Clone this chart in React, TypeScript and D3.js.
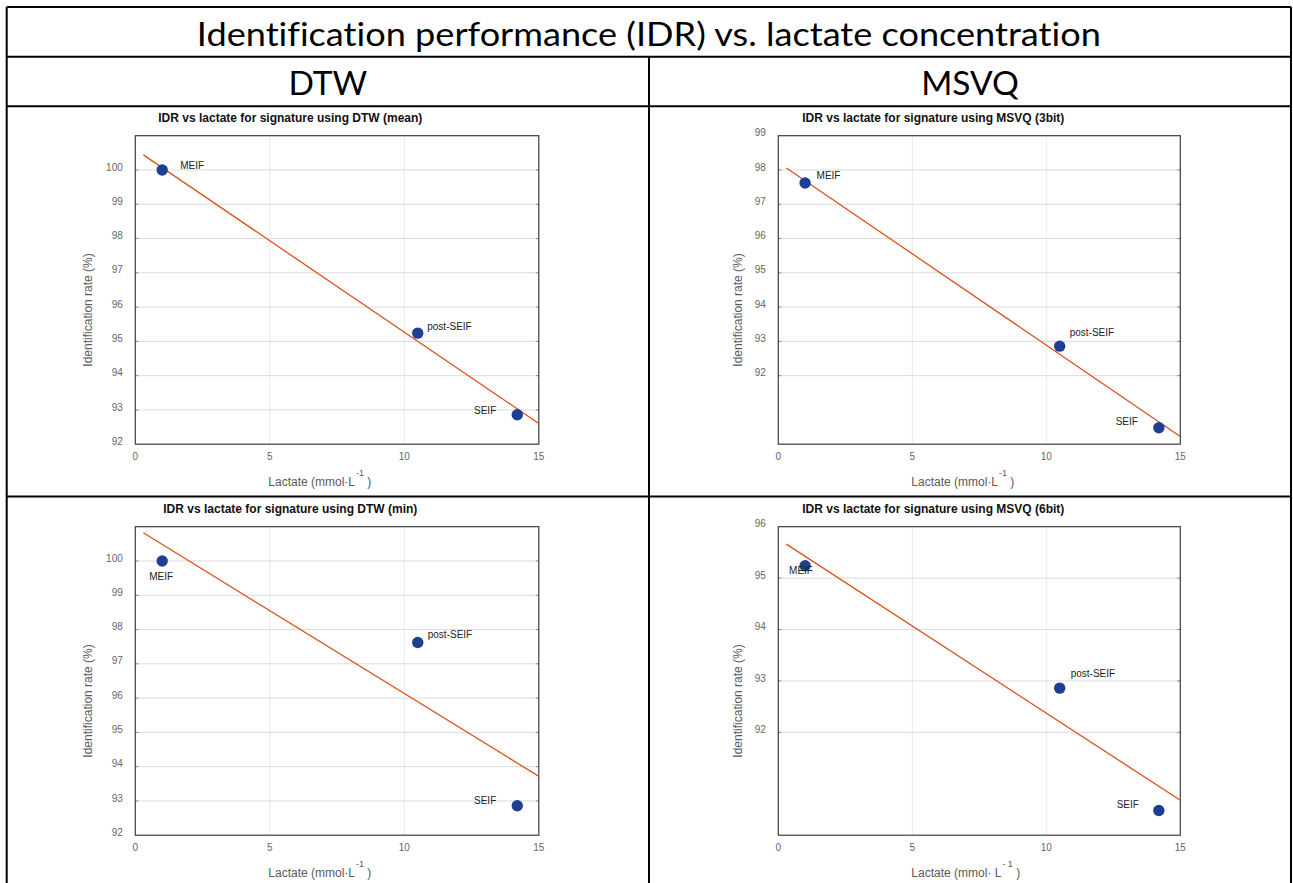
import React from "react";
import * as d3 from "d3";

// ---------------- data ----------------
const conditions = ["MEIF", "post-SEIF", "SEIF"];
const lactate = [1.0, 10.5, 14.2];

const idrDtwMean = [100, 95.24, 92.86];
const idrDtwMin = [100, 97.62, 92.86];
const idrMsvq3 = [97.62, 92.86, 90.48];
const idrMsvq6 = [95.24, 92.86, 90.48];

const xTicks = [0, 5, 10, 15];
const yTicksDtw = [92, 93, 94, 95, 96, 97, 98, 99, 100];
const yTicksMsvq3 = [92, 93, 94, 95, 96, 97, 98, 99];
const yTicksMsvq6 = [92, 93, 94, 95, 96];

const fitRange = [0.3, 15];

const mainTitle = "Identification performance (IDR) vs. lactate concentration";
const columnHeaders = ["DTW", "MSVQ"];

// label placement (dx, dy relative to point, anchor)
type LabelPos = { dx: number; dy: number; anchor: "start" | "middle" | "end" };
const labelsDtwMean: LabelPos[] = [
  { dx: 18, dy: -4, anchor: "start" },
  { dx: 9.5, dy: -6, anchor: "start" },
  { dx: -21, dy: -3, anchor: "end" },
];
const labelsMsvq3: LabelPos[] = [
  { dx: 11.5, dy: -6.5, anchor: "start" },
  { dx: 10, dy: -13, anchor: "start" },
  { dx: -21, dy: -5, anchor: "end" },
];
const labelsDtwMin: LabelPos[] = [
  { dx: -1, dy: 16, anchor: "middle" },
  { dx: 10, dy: -7, anchor: "start" },
  { dx: -21, dy: -4, anchor: "end" },
];
const labelsMsvq6: LabelPos[] = [
  { dx: -16, dy: 6, anchor: "start" },
  { dx: 11, dy: -14, anchor: "start" },
  { dx: -20, dy: -5, anchor: "end" },
];

const FONT = "'Liberation Sans', Arial, Helvetica, sans-serif";
const HEAD_FONT = "Lato, 'Open Sans', sans-serif";

function linearFit(xs: number[], ys: number[]) {
  const mx = d3.mean(xs)!;
  const my = d3.mean(ys)!;
  let sxy = 0;
  let sxx = 0;
  xs.forEach((x, i) => {
    sxy += (x - mx) * (ys[i] - my);
    sxx += (x - mx) * (x - mx);
  });
  const slope = sxy / sxx;
  const intercept = my - slope * mx;
  return (x: number) => intercept + slope * x;
}

type PanelProps = {
  left: number;
  top: number;
  width: number;
  height: number;
  yDomain: [number, number];
  yTicks: number[];
  values: number[];
  title: string;
  labels: LabelPos[];
  yLabelDx: number;
  spacedUnit?: boolean;
};

function Panel(p: PanelProps) {
  const x = d3.scaleLinear().domain([0, 15]).range([p.left, p.left + p.width]);
  const y = d3.scaleLinear().domain(p.yDomain).range([p.top + p.height, p.top]);
  const fit = linearFit(lactate, p.values);
  const line = d3
    .line<number>()
    .x((d) => x(d))
    .y((d) => y(fit(d)));
  const bottom = p.top + p.height;
  const right = p.left + p.width;
  const cy = p.top + p.height / 2;
  return (
    <g>
      {/* grid */}
      {p.yTicks
        .filter((t) => t > p.yDomain[0] && t < p.yDomain[1])
        .map((t) => (
          <line key={"gy" + t} x1={p.left} x2={right} y1={y(t)} y2={y(t)} stroke="#dcdcdc" strokeWidth={1} />
        ))}
      {xTicks
        .filter((t) => t > 0 && t < 15)
        .map((t) => (
          <line
            key={"gx" + t}
            x1={x(t)}
            x2={x(t)}
            y1={p.top}
            y2={bottom}
            stroke="#d4d4d4"
            strokeWidth={1}
            strokeDasharray="1,1"
          />
        ))}
      {/* inward ticks */}
      {p.yTicks
        .filter((t) => t > p.yDomain[0] && t < p.yDomain[1])
        .map((t) => (
          <g key={"ty" + t}>
            <line x1={p.left} x2={p.left + 3} y1={y(t)} y2={y(t)} stroke="#8a8a8a" strokeWidth={1} />
            <line x1={right - 3} x2={right} y1={y(t)} y2={y(t)} stroke="#8a8a8a" strokeWidth={1} />
          </g>
        ))}
      {/* frame */}
      <rect x={p.left} y={p.top} width={p.width} height={p.height} fill="none" stroke="#3c3c3c" strokeWidth={1.2} />
      {/* tick labels */}
      {p.yTicks.map((t) => (
        <text
          key={"ly" + t}
          x={p.left - 12.5}
          y={y(t) - 2}
          textAnchor="end"
          dominantBaseline="middle"
          fontFamily={FONT}
          fontSize={10}
          fill="#666"
        >
          {t}
        </text>
      ))}
      {xTicks.map((t) => (
        <text
          key={"lx" + t}
          x={x(t)}
          y={bottom + 13}
          textAnchor="middle"
          dominantBaseline="middle"
          fontFamily={FONT}
          fontSize={10}
          fill="#666"
        >
          {t}
        </text>
      ))}
      {/* fit line */}
      <path d={line(fitRange) || ""} fill="none" stroke="#d95319" strokeWidth={1.3} />
      {/* points */}
      {p.values.map((v, i) => (
        <circle key={"pt" + i} cx={x(lactate[i])} cy={y(v)} r={5.7} fill="#1f3f94" />
      ))}
      {/* point labels */}
      {p.values.map((v, i) => (
        <text
          key={"pl" + i}
          x={x(lactate[i]) + p.labels[i].dx}
          y={y(v) + p.labels[i].dy}
          textAnchor={p.labels[i].anchor}
          dominantBaseline="middle"
          fontFamily={FONT}
          fontSize={10}
          fill="#222"
        >
          {conditions[i]}
        </text>
      ))}
      {/* title */}
      <text
        x={p.left + 155}
        y={p.top - 16.5}
        textAnchor="middle"
        dominantBaseline="middle"
        fontFamily={FONT}
        fontSize={12}
        fontWeight="bold"
        fill="#111"
      >
        {p.title}
      </text>
      {/* x label */}
      <text
        x={p.left + 133}
        y={bottom + 41.5}
        textAnchor="start"
        fontFamily={FONT}
        fontSize={12}
        fill="#5a5a5a"
      >
        {p.spacedUnit ? "Lactate (mmol· L" : "Lactate (mmol·L"}
        <tspan dy={-10} fontSize={9} dx={1}>
          {p.spacedUnit ? "- 1" : "-1"}
        </tspan>
        <tspan dy={10} fontSize={12}>
          {" )"}
        </tspan>
      </text>
      {/* y label */}
      <text
        transform={`translate(${p.left + p.yLabelDx},${cy + 20}) rotate(-90)`}
        textAnchor="middle"
        dominantBaseline="middle"
        fontFamily={FONT}
        fontSize={12}
        fill="#5a5a5a"
      >
        Identification rate (%)
      </text>
    </g>
  );
}

export default function App() {
  const W = 1293;
  const H = 883;
  const tL = 6.7;
  const tR = 1291;
  const tT = 7;
  const row1 = 56.8;
  const row2 = 106.2;
  const row3 = 496.5;
  const colMid = 649;

  const plotW = 403.5;
  const plotH = 308.5;
  const leftA = 135.3;
  const leftB = 778.3;
  const topA = 135.7;
  const topB = 526.7;

  const headStyle = { fontVariantLigatures: "none" as const };

  return (
    <svg
      width={W}
      height={H}
      style={{ position: "absolute", left: 0, top: 0, background: "#fff" }}
    >
      <rect x={0} y={0} width={W} height={H} fill="#fff" />
      {/* table */}
      <g stroke="#000" strokeWidth={2} fill="none">
        <line x1={tL} x2={tL} y1={tT} y2={H + 2} />
        <line x1={tR} x2={tR} y1={tT} y2={H + 2} />
        <line x1={tL} x2={tR} y1={tT} y2={tT} />
        <line x1={tL} x2={tR} y1={row1} y2={row1} />
        <line x1={tL} x2={tR} y1={row2} y2={row2} />
        <line x1={tL} x2={tR} y1={row3} y2={row3} />
        <line x1={colMid} x2={colMid} y1={row1} y2={H + 2} />
      </g>
      <text
        x={(tL + tR) / 2}
        y={45.7}
        textAnchor="middle"
        fontFamily={HEAD_FONT}
        fontSize={33.5}
        fill="#000"
        textLength={904}
        lengthAdjust="spacingAndGlyphs"
        style={headStyle}
      >
        {mainTitle}
      </text>
      <text x={(tL + colMid) / 2} y={95} textAnchor="middle" fontFamily={HEAD_FONT} fontSize={33.5} fill="#000" style={headStyle}>
        {columnHeaders[0]}
      </text>
      <text x={(colMid + tR) / 2} y={95} textAnchor="middle" fontFamily={HEAD_FONT} fontSize={33.5} fill="#000" style={headStyle}>
        {columnHeaders[1]}
      </text>

      <Panel
        left={leftA}
        top={topA}
        width={plotW}
        height={plotH}
        yDomain={[92, 101]}
        yTicks={yTicksDtw}
        values={idrDtwMean}
        title="IDR vs lactate for signature using DTW (mean)"
        labels={labelsDtwMean}
        yLabelDx={-46}
      />
      <Panel
        left={leftB}
        top={topA}
        width={plotW - 1.5}
        height={plotH}
        yDomain={[90, 99]}
        yTicks={yTicksMsvq3}
        values={idrMsvq3}
        title="IDR vs lactate for signature using MSVQ (3bit)"
        labels={labelsMsvq3}
        yLabelDx={-39}
      />
      <Panel
        left={leftA}
        top={topB}
        width={plotW}
        height={plotH}
        yDomain={[92, 101]}
        yTicks={yTicksDtw}
        values={idrDtwMin}
        title="IDR vs lactate for signature using DTW (min)"
        labels={labelsDtwMin}
        yLabelDx={-46}
      />
      <Panel
        left={leftB}
        top={topB}
        width={plotW - 1.5}
        height={plotH}
        yDomain={[90, 96]}
        yTicks={yTicksMsvq6}
        values={idrMsvq6}
        title="IDR vs lactate for signature using MSVQ (6bit)"
        labels={labelsMsvq6}
        yLabelDx={-39}
        spacedUnit
      />
    </svg>
  );
}
